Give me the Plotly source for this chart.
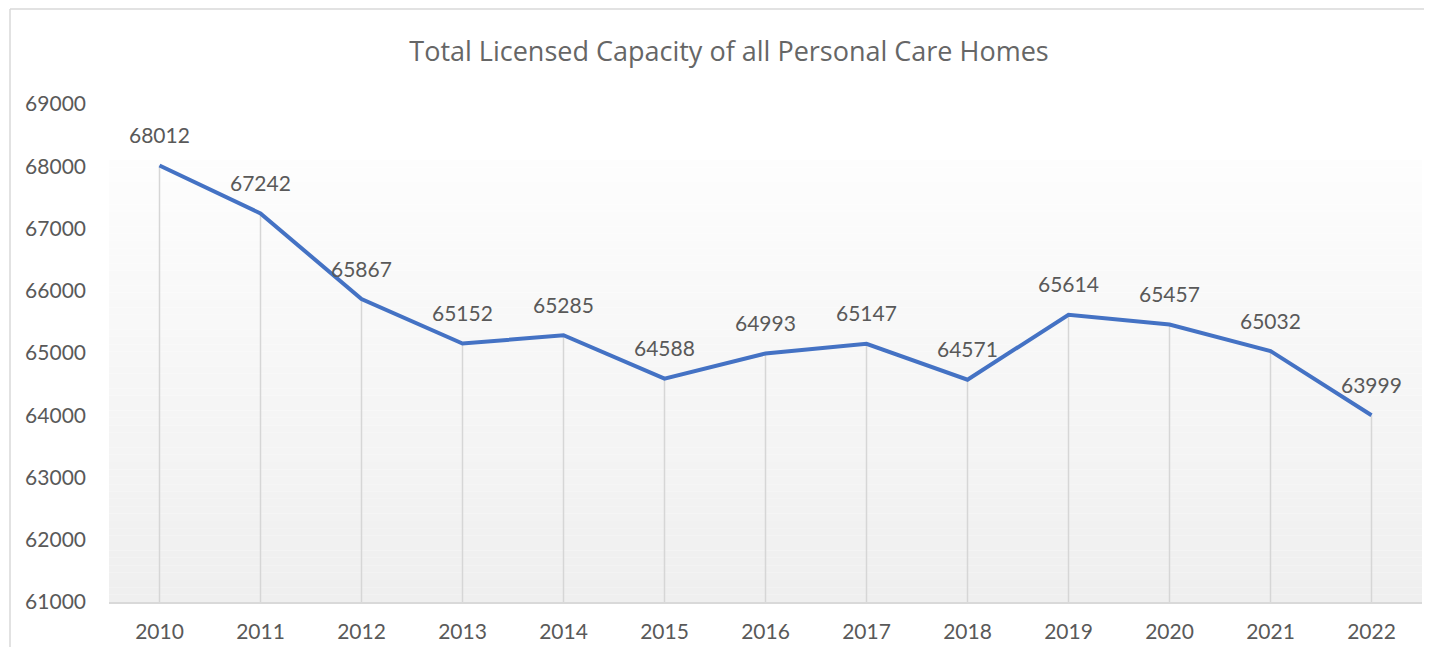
import plotly.graph_objects as go

years = ["2010", "2011", "2012", "2013", "2014", "2015", "2016",
         "2017", "2018", "2019", "2020", "2021", "2022"]
capacity = [68012, 67242, 65867, 65152, 65285, 64588, 64993,
            65147, 64571, 65614, 65457, 65032, 63999]
y_ticks = [61000, 62000, 63000, 64000, 65000, 66000, 67000, 68000, 69000]

Y_MIN, Y_MAX = 61000, 69000
FONT = "Lato"
TEXT_GRAY = "#595959"

W, H = 1416, 639
L, R, T, B = 101, 2, 96, 45
PW, PH = W - L - R, H - T - B

fig = go.Figure()

# gradient plot-area background (strips)
n = 60
g_top, g_bot = 68100, Y_MIN
for i in range(n):
    t = i / (n - 1)
    c = int(round(253 - (253 - 239) * t))
    y1 = g_top - (g_top - g_bot) * i / n
    y0 = g_top - (g_top - g_bot) * (i + 1) / n
    fig.add_shape(type="rect", xref="paper", yref="y", x0=0, x1=1,
                  y0=y0, y1=y1, fillcolor=f"rgb({c},{c},{c})",
                  line=dict(width=0), layer="below")

# drop lines from each point to the axis
dx, dy = [], []
for yr, v in zip(years, capacity):
    dx += [yr, yr, None]
    dy += [v, Y_MIN, None]
fig.add_trace(go.Scatter(x=dx, y=dy, mode="lines",
                         line=dict(color="#d6d6d6", width=1.5),
                         hoverinfo="skip", showlegend=False))

fig.add_trace(go.Scatter(x=years, y=capacity, mode="lines",
                         line=dict(color="#4472C4", width=4),
                         showlegend=False))

for i, v in enumerate(capacity):
    fig.add_annotation(x=i, y=v, text=str(v), showarrow=False,
                       yshift=31, font=dict(family=FONT, size=21, color=TEXT_GRAY))

# chart border (left and top edges visible)
bx0 = (2 - L) / PW
by1 = (PH + T - 1) / PH
fig.add_shape(type="line", xref="paper", yref="paper",
              x0=bx0, x1=bx0, y0=-(B + 20) / PH, y1=by1,
              line=dict(color="#d9d9d9", width=1.5), layer="above")
fig.add_shape(type="line", xref="paper", yref="paper",
              x0=bx0, x1=(W - L) / PW, y0=by1, y1=by1,
              line=dict(color="#d9d9d9", width=1.5), layer="above")

fig.update_layout(
    width=W, height=H,
    margin=dict(l=L, r=R, t=T, b=B),
    paper_bgcolor="white", plot_bgcolor="white",
    title=dict(text="Total Licensed Capacity of all Personal Care Homes",
               x=721 / W, xanchor="center", xref="container",
               y=1 - 44 / H, yanchor="middle", yref="container",
               font=dict(family="Open Sans", size=27, color="#666666")),
    xaxis=dict(type="category", categoryorder="array", categoryarray=years,
               range=[-0.5, len(years) - 0.5], showgrid=False,
               showline=True, linecolor="#d9d9d9", linewidth=1.5,
               ticks="", tickfont=dict(family=FONT, size=21, color=TEXT_GRAY),
               ticklabelstandoff=10, zeroline=False),
    yaxis=dict(range=[Y_MIN, Y_MAX], tickvals=y_ticks,
               ticktext=[str(t) for t in y_ticks], showgrid=False,
               showline=False, zeroline=False, ticks="",
               tickfont=dict(family=FONT, size=21, color=TEXT_GRAY),
               ticklabelstandoff=22),
    hovermode=False,
)

fig.write_html("out.html")
